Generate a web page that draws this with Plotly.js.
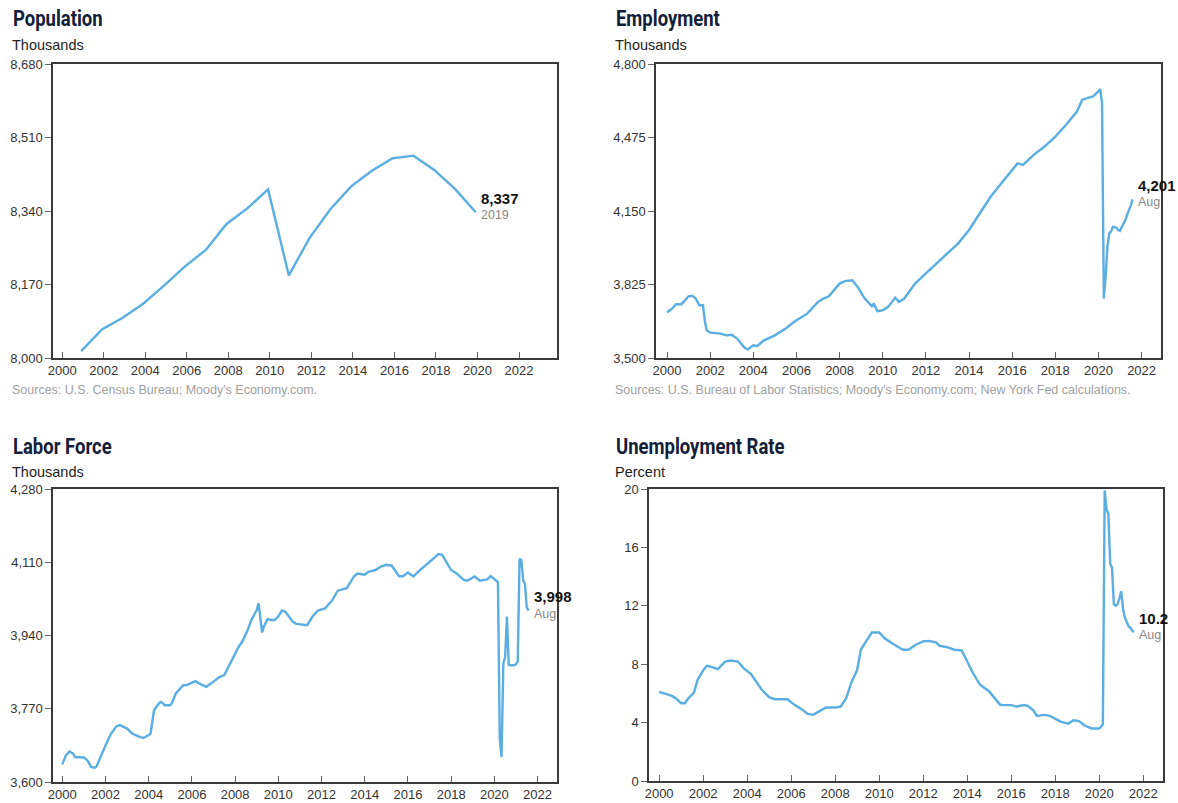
<!DOCTYPE html>
<html>
<head>
<meta charset="utf-8">
<script src="https://cdn.plot.ly/plotly-3.0.1.min.js"></script>
<style>html,body{margin:0;padding:0;background:#fff;}#chart{width:1178px;height:803px;}</style>
</head>
<body>
<div id="chart"></div>
<script>
// ---------- DATA ----------
// Population (annual, thousands)
const popYears = [2000,2001,2002,2003,2004,2005,2006,2007,2008,2009,2010,2011,2012,2013,2014,2015,2016,2017,2018,2019];
const popValues = [8016,8066,8093,8126,8168,8212,8250,8310,8346,8390,8191,8278,8344,8397,8433,8462,8468,8435,8391,8337];

// Employment (monthly readings, thousands)
const empMonths = ["2000-01","2000-04","2000-06","2000-09","2000-11","2001-01","2001-03","2001-05","2001-07","2001-09","2001-10","2001-11",
"2002-01","2002-07","2002-10","2003-01","2003-04","2003-08","2003-10","2004-01","2004-03","2004-07","2005-01","2005-07","2005-10",
"2006-01","2006-07","2007-01","2007-04","2007-07","2008-01","2008-04","2008-08","2008-11","2009-03","2009-07","2009-08","2009-10",
"2010-01","2010-04","2010-08","2010-10","2011-01","2011-07","2012-01","2012-07","2013-01","2013-07","2014-01","2014-07","2015-01",
"2015-07","2016-01","2016-04","2016-07","2017-01","2017-07","2018-01","2018-07","2019-01","2019-04","2019-07","2019-10","2020-01",
"2020-02","2020-03","2020-04","2020-05","2020-06","2020-07","2020-08","2020-09","2020-10","2020-11","2020-12","2021-01","2021-02",
"2021-03","2021-04","2021-05","2021-06","2021-07","2021-08"];
const empValues = [3701,3719,3738,3738,3755,3773,3775,3763,3733,3733,3667,3623,
3612,3608,3600,3603,3586,3546,3538,3556,3552,3578,3600,3630,3649,
3667,3696,3748,3763,3773,3829,3840,3844,3815,3763,3729,3741,3707,
3711,3726,3767,3748,3763,3829,3874,3918,3962,4007,4066,4140,4213,
4273,4332,4361,4354,4398,4435,4479,4531,4590,4642,4649,4657,4679,
4689,4627,3763,3859,3992,4051,4060,4080,4080,4077,4066,4062,4080,
4095,4110,4135,4154,4175,4201];

// Labor force (monthly readings, thousands)
const lfMonths = ["2000-01","2000-03","2000-05","2000-07","2000-08","2001-01","2001-03","2001-05","2001-07","2001-08",
"2002-01","2002-04","2002-07","2002-09","2003-01","2003-04","2003-08","2003-10","2004-01","2004-02","2004-04","2004-07","2004-08","2004-10",
"2005-01","2005-02","2005-04","2005-08","2005-10","2006-01","2006-03","2006-05","2006-09","2007-01","2007-04","2007-07","2007-09",
"2008-01","2008-03","2008-05","2008-08","2008-10","2009-01","2009-02","2009-03","2009-04","2009-05","2009-07","2009-09","2009-11",
"2010-01","2010-03","2010-05","2010-07","2010-09","2010-11","2011-03","2011-05","2011-08","2011-11","2012-03","2012-07","2012-10",
"2013-01","2013-03","2013-07","2013-09","2014-01","2014-03","2014-07","2014-10","2015-01","2015-04","2015-08","2015-10",
"2016-01","2016-04","2016-08","2016-11","2017-03","2017-06","2017-08","2017-10","2018-01","2018-04","2018-08","2018-10",
"2019-02","2019-05","2019-09","2019-11","2020-01","2020-02","2020-03","2020-04","2020-05","2020-06","2020-07","2020-08",
"2020-09","2020-10","2020-11","2020-12","2021-01","2021-02","2021-03","2021-04","2021-05","2021-06","2021-07","2021-08"];
const lfValues = [3641,3662,3671,3666,3658,3657,3650,3635,3633,3636,
3685,3712,3729,3732,3724,3712,3705,3702,3709,3712,3767,3784,3786,3778,
3778,3784,3805,3824,3825,3830,3834,3829,3821,3833,3843,3848,3864,
3898,3914,3926,3953,3976,3999,4015,3976,3947,3961,3978,3976,3976,
3984,3998,3995,3984,3972,3967,3966,3964,3984,3998,4003,4022,4044,
4047,4050,4077,4084,4081,4088,4092,4100,4104,4102,4078,4077,
4086,4077,4093,4104,4117,4129,4127,4112,4092,4084,4069,4067,
4077,4067,4070,4078,4072,4069,4064,3700,3658,3875,3890,3984,
3872,3871,3871,3871,3873,3880,4118,4115,4068,4060,4005,3998];

// Unemployment rate (monthly readings, percent)
const urMonths = ["2000-01","2000-04","2000-08","2000-10","2001-01","2001-03","2001-05","2001-08","2001-10",
"2002-01","2002-03","2002-05","2002-09","2003-01","2003-04","2003-08","2003-11","2004-03","2004-06","2004-09",
"2005-01","2005-04","2005-08","2005-11","2006-03","2006-07","2006-10","2007-01","2007-04","2007-08",
"2008-01","2008-04","2008-07","2008-10","2009-01","2009-03","2009-07","2009-09","2010-01","2010-04","2010-08","2010-11",
"2011-02","2011-05","2011-09","2012-01","2012-04","2012-08","2012-10","2013-02","2013-06","2013-10",
"2014-01","2014-04","2014-08","2015-01","2015-03","2015-07","2015-09","2016-01","2016-04","2016-08","2016-10",
"2017-01","2017-03","2017-07","2017-10","2018-01","2018-04","2018-08","2018-11","2019-02","2019-05","2019-09",
"2020-01","2020-02","2020-03","2020-04","2020-05","2020-06","2020-07","2020-08","2020-09","2020-10","2020-11","2020-12",
"2021-01","2021-02","2021-03","2021-04","2021-05","2021-06","2021-07","2021-08"];
const urValues = [6.1,5.97,5.83,5.67,5.33,5.33,5.67,6.06,6.93,
7.57,7.89,7.84,7.66,8.18,8.25,8.18,7.73,7.34,6.82,6.25,
5.74,5.6,5.6,5.6,5.2,4.9,4.6,4.53,4.75,5.03,
5.03,5.1,5.67,6.8,7.6,8.99,9.78,10.17,10.17,9.78,9.44,9.2,
8.99,8.99,9.33,9.56,9.6,9.5,9.26,9.17,8.99,8.95,
8.18,7.43,6.59,6.13,5.83,5.22,5.2,5.2,5.1,5.2,5.15,
4.85,4.46,4.53,4.46,4.27,4.07,3.93,4.16,4.1,3.8,3.6,
3.6,3.7,3.9,19.9,18.6,18.3,14.9,14.6,12.1,12.0,12.1,12.5,
13.0,11.8,11.2,10.9,10.6,10.5,10.3,10.2];

const panelTitles = ["Population","Employment","Labor Force","Unemployment Rate"];
const panelUnits = ["Thousands","Thousands","Thousands","Percent"];
const panelSources = ["Sources: U.S. Census Bureau; Moody's Economy.com.","Sources: U.S. Bureau of Labor Statistics; Moody's Economy.com; New York Fed calculations.","",""];
const endValueLabels = ["8,337","4,201","3,998","10.2"];
const endPeriodLabels = ["2019","Aug","Aug","Aug"];
const yTicks = [[8000,8170,8340,8510,8680],[3500,3825,4150,4475,4800],[3600,3770,3940,4110,4280],[0,4,8,12,16,20]];
const xTickYears = [2000,2002,2004,2006,2008,2010,2012,2014,2016,2018,2020,2022];

// ---------- HELPERS ----------
const W = 1178, H = 803;
const toDec = m => { const [y, mo] = m.split("-").map(Number); return y + (mo - 1) / 12; };
const popX = popYears.map(y => y + 11/12);
const series = [
  {x: popX, y: popValues},
  {x: empMonths.map(toDec), y: empValues},
  {x: lfMonths.map(toDec), y: lfValues},
  {x: urMonths.map(toDec), y: urValues}
];
// plot boxes in pixels: [left, right, top, bottom]
const boxes = [[53,557,64,358],[656,1161,64,358],[53,557,489,782],[649,1163,489,781]];
const xRanges = [[1999.56,2023.83],[1999.49,2022.9],[1999.57,2022.9],[1999.54,2022.9]];
const titlePos = [[11,19],[614,19],[11,446],[614,446]];

const LINE = "#5aaee2";
const FONT = "Liberation Sans, Arial, sans-serif";
const TITLE_FONT = "Roboto, Liberation Sans, sans-serif";
const traces = [], annotations = [];
const layout = {
  width: W, height: H, margin: {l:0,r:0,t:0,b:0},
  paper_bgcolor: "#fff", plot_bgcolor: "#fff", showlegend: false,
  font: {family: FONT, color: "#333"}
};

series.forEach((s, i) => {
  const n = i === 0 ? "" : String(i + 1);
  const [l, r, t, b] = boxes[i];
  traces.push({x: s.x, y: s.y, type: "scatter", mode: "lines",
    line: {color: LINE, width: 2.4}, xaxis: "x" + n, yaxis: "y" + n, hoverinfo: "skip", cliponaxis: true});
  layout["xaxis" + n] = {
    domain: [l / W, r / W], range: xRanges[i], anchor: "y" + n,
    tickvals: xTickYears, ticktext: xTickYears.map(String),
    ticks: "inside", ticklen: 6, tickcolor: "#666", tickwidth: 1,
    showline: true, linecolor: "#3a3a3a", linewidth: 1.6, mirror: true,
    showgrid: false, zeroline: false, fixedrange: true,
    tickfont: {size: 13, color: "#333", family: FONT}
  };
  const yt = yTicks[i];
  layout["yaxis" + n] = {
    domain: [1 - b / H, 1 - t / H], range: [yt[0], yt[yt.length - 1]], anchor: "x" + n,
    tickvals: yt, tickformat: i === 3 ? "d" : ",d",
    ticks: "outside", ticklen: 6, tickcolor: "#666", tickwidth: 1,
    showline: true, linecolor: "#3a3a3a", linewidth: 1.6, mirror: true,
    showgrid: false, zeroline: false, fixedrange: true,
    tickfont: {size: 13, color: "#333", family: FONT}
  };
  const [tx, ty] = titlePos[i];
  annotations.push({xref: "paper", yref: "paper", x: tx / W, y: 1 - ty / H, xanchor: "left", yanchor: "middle",
    text: panelTitles[i], showarrow: false,
    font: {family: TITLE_FONT, size: 22, weight: 700, color: "#13203a"}});
  annotations.push({xref: "paper", yref: "paper", x: (tx - 1) / W, y: 1 - (ty + 26) / H, xanchor: "left", yanchor: "middle",
    text: panelUnits[i], showarrow: false, font: {family: FONT, size: 14.5, color: "#222"}});
  if (panelSources[i]) {
    annotations.push({xref: "paper", yref: "paper", x: (tx - 1) / W, y: 1 - 390 / H, xanchor: "left", yanchor: "middle",
      text: panelSources[i], showarrow: false, font: {family: FONT, size: 12.5, color: "#a0a0a0"}});
  }
  const lx = s.x[s.x.length - 1], ly = s.y[s.y.length - 1];
  annotations.push({xref: "x" + n, yref: "y" + n, x: lx, y: ly, xanchor: "left", yanchor: "middle",
    xshift: 3, yshift: 14, text: "<b>" + endValueLabels[i] + "</b>", showarrow: false,
    font: {family: FONT, size: 15, color: "#111"}});
  annotations.push({xref: "x" + n, yref: "y" + n, x: lx, y: ly, xanchor: "left", yanchor: "middle",
    xshift: 3, yshift: -3, text: endPeriodLabels[i], showarrow: false,
    font: {family: FONT, size: 12.5, color: "#888"}});
});
layout.annotations = annotations;

Plotly.newPlot("chart", traces, layout, {staticPlot: true, displayModeBar: false}).then(() => {
  // condense the bold panel titles (the original uses a condensed typeface)
  const squeeze = 0.84;
  document.querySelectorAll("#chart .annotation-text").forEach(el => {
    if (!panelTitles.includes(el.textContent)) return;
    const w = el.getComputedTextLength();
    const anchor = el.getAttribute("text-anchor") || "start";
    const x = parseFloat(el.getAttribute("x") || "0");
    el.setAttribute("textLength", (w * squeeze).toFixed(1));
    el.setAttribute("lengthAdjust", "spacingAndGlyphs");
    if (anchor === "middle") el.setAttribute("x", (x - w * (1 - squeeze) / 2).toFixed(1));
    else if (anchor === "end") el.setAttribute("x", (x - w * (1 - squeeze)).toFixed(1));
  });
});
</script>
</body>
</html>
